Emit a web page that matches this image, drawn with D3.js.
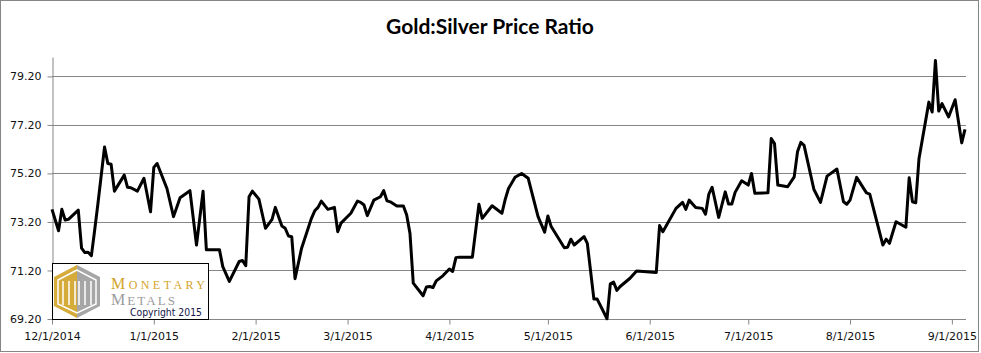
<!DOCTYPE html>
<html>
<head>
<meta charset="utf-8">
<script src="https://cdn.jsdelivr.net/npm/d3@7"></script>
<style>
body { margin: 0; background: #fff; }
#chart svg { display: block; }
</style>
</head>
<body>
<div id="chart"></div>
<script>
var chartTitle = "Gold:Silver Price Ratio";

var dates = [
    "2014-12-01", "2014-12-03", "2014-12-04", "2014-12-05", "2014-12-06", "2014-12-09", "2014-12-10", "2014-12-11",
    "2014-12-12", "2014-12-13", "2014-12-14", "2014-12-15", "2014-12-17", "2014-12-18", "2014-12-19", "2014-12-20",
    "2014-12-23", "2014-12-24", "2014-12-25", "2014-12-27", "2014-12-29", "2014-12-31", "2015-01-01", "2015-01-02",
    "2015-01-05", "2015-01-07", "2015-01-09", "2015-01-12", "2015-01-14", "2015-01-16", "2015-01-17", "2015-01-21",
    "2015-01-22", "2015-01-24", "2015-01-27", "2015-01-28", "2015-01-29", "2015-01-30", "2015-01-31", "2015-02-02",
    "2015-02-04", "2015-02-06", "2015-02-07", "2015-02-09", "2015-02-10", "2015-02-11", "2015-02-12", "2015-02-13",
    "2015-02-15", "2015-02-18", "2015-02-19", "2015-02-20", "2015-02-21", "2015-02-23", "2015-02-25", "2015-02-26",
    "2015-02-27", "2015-03-02", "2015-03-04", "2015-03-05", "2015-03-06", "2015-03-07", "2015-03-09", "2015-03-11",
    "2015-03-12", "2015-03-13", "2015-03-14", "2015-03-16", "2015-03-18", "2015-03-19", "2015-03-20", "2015-03-21",
    "2015-03-24", "2015-03-25", "2015-03-26", "2015-03-27", "2015-03-28", "2015-03-30", "2015-04-01", "2015-04-02",
    "2015-04-03", "2015-04-04", "2015-04-08", "2015-04-10", "2015-04-11", "2015-04-14", "2015-04-17", "2015-04-18",
    "2015-04-19", "2015-04-21", "2015-04-23", "2015-04-25", "2015-04-28", "2015-04-30", "2015-05-01", "2015-05-02",
    "2015-05-06", "2015-05-07", "2015-05-08", "2015-05-09", "2015-05-12", "2015-05-13", "2015-05-15", "2015-05-16",
    "2015-05-19", "2015-05-20", "2015-05-21", "2015-05-22", "2015-05-23", "2015-05-26", "2015-05-28", "2015-05-30",
    "2015-06-03", "2015-06-04", "2015-06-05", "2015-06-09", "2015-06-11", "2015-06-12", "2015-06-13", "2015-06-15",
    "2015-06-17", "2015-06-18", "2015-06-19", "2015-06-20", "2015-06-22", "2015-06-24", "2015-06-25", "2015-06-26",
    "2015-06-27", "2015-06-29", "2015-07-01", "2015-07-02", "2015-07-03", "2015-07-07", "2015-07-08", "2015-07-09",
    "2015-07-10", "2015-07-13", "2015-07-15", "2015-07-16", "2015-07-17", "2015-07-18", "2015-07-21", "2015-07-23",
    "2015-07-25", "2015-07-28", "2015-07-30", "2015-07-31", "2015-08-01", "2015-08-03", "2015-08-06", "2015-08-07",
    "2015-08-11", "2015-08-12", "2015-08-13", "2015-08-15", "2015-08-18", "2015-08-19", "2015-08-20", "2015-08-21",
    "2015-08-22", "2015-08-25", "2015-08-26", "2015-08-27", "2015-08-28", "2015-08-29", "2015-08-31", "2015-09-02",
    "2015-09-04", "2015-09-05"
];

var ratios = [
    73.72, 72.84, 73.72, 73.28, 73.31, 73.69, 72.12, 71.94,
    71.95, 71.81, 72.87, 73.97, 76.29, 75.61, 75.58, 74.47,
    75.13, 74.63, 74.61, 74.47, 75.00, 73.62, 75.45, 75.61,
    74.58, 73.42, 74.20, 74.49, 72.25, 74.47, 72.05, 72.05,
    71.36, 70.75, 71.57, 71.61, 71.40, 74.24, 74.47, 74.14,
    72.94, 73.31, 73.80, 73.03, 72.94, 72.62, 72.59, 70.86,
    72.12, 73.35, 73.66, 73.80, 74.06, 73.72, 73.80, 72.80,
    73.15, 73.56, 74.06, 74.01, 73.90, 73.46, 74.10, 74.24,
    74.49, 74.07, 74.03, 73.86, 73.86, 73.49, 72.73, 70.68,
    70.16, 70.52, 70.54, 70.50, 70.77, 70.98, 71.26, 71.16,
    71.73, 71.75, 71.75, 73.93, 73.35, 73.87, 73.56, 74.13,
    74.58, 75.04, 75.20, 75.00, 73.42, 72.78, 73.45, 73.01,
    72.14, 72.16, 72.49, 72.25, 72.60, 72.32, 70.02, 70.02,
    69.21, 70.65, 70.72, 70.38, 70.54, 70.88, 71.18, 71.16,
    71.12, 73.05, 72.80, 73.76, 74.01, 73.72, 74.10, 73.80,
    73.76, 73.52, 74.35, 74.63, 73.39, 74.44, 73.94, 73.94,
    74.42, 74.90, 74.72, 75.20, 74.38, 74.40, 76.64, 76.43,
    74.72, 74.65, 75.06, 76.09, 76.48, 76.36, 74.54, 74.01,
    75.09, 75.38, 74.03, 73.93, 74.10, 75.04, 74.40, 74.35,
    72.25, 72.49, 72.32, 73.21, 72.98, 75.02, 74.03, 73.99,
    75.82, 78.14, 77.73, 79.86, 77.77, 78.08, 77.53, 78.24,
    76.46, 77.02
];

var yTicks = [69.2, 71.2, 73.2, 75.2, 77.2, 79.2];
var xStart = "2014-12-01", xEnd = "2015-09-05";

var width = 981, height = 353;
var plot = { left: 52, right: 965, top: 57, bottom: 319 };
var gridColor = "#868686";
var labelFont = "'DejaVu Sans', Verdana, sans-serif";

var parseDate = d3.timeParse("%Y-%m-%d");
var data = dates.map(function (d, i) { return { date: parseDate(d), value: ratios[i] }; });

var svg = d3.select("#chart")
    .append("svg")
    .attr("width", width)
    .attr("height", height);

// outer frame
svg.append("rect")
    .attr("x", 0.5).attr("y", 0.5)
    .attr("width", width - 3).attr("height", height - 2)
    .attr("fill", "#fff")
    .attr("stroke", gridColor);

var x = d3.scaleTime()
    .domain([parseDate(xStart), parseDate(xEnd)])
    .range([plot.left, plot.right]);

var y = d3.scaleLinear()
    .domain([69.2, 80.0])
    .range([plot.bottom, plot.top]);

// horizontal gridlines
svg.append("g")
    .selectAll("line")
    .data(yTicks.slice(1))
    .enter()
    .append("line")
    .attr("x1", plot.left).attr("x2", plot.right + 1)
    .attr("y1", d => Math.round(y(d)) + 0.5)
    .attr("y2", d => Math.round(y(d)) + 0.5)
    .attr("stroke", gridColor)
    .attr("stroke-width", 1);

var yAxis = svg.append("g")
    .attr("transform", "translate(" + (plot.left + 0.5) + ",0)")
    .call(d3.axisLeft(y).tickValues(yTicks).tickFormat(d3.format(".2f"))
        .tickSize(5).tickSizeOuter(0).tickPadding(6));

var xAxis = svg.append("g")
    .attr("transform", "translate(0," + (plot.bottom + 0.5) + ")")
    .call(d3.axisBottom(x).ticks(d3.timeMonth.every(1)).tickFormat(d3.timeFormat("%-m/%-d/%Y"))
        .tickSize(5).tickSizeOuter(0).tickPadding(8));

xAxis.select(".domain").attr("d", "M" + plot.left + ",0H" + (plot.right + 1));

[yAxis, xAxis].forEach(function (ax) {
    ax.selectAll(".domain, .tick line").attr("stroke", gridColor);
    ax.selectAll("text")
        .attr("fill", "#111")
        .style("font-family", labelFont)
        .style("font-size", "11px");
});

// title
svg.append("text")
    .attr("x", 490)
    .attr("y", 34)
    .attr("text-anchor", "middle")
    .style("font-family", "Lato, 'Open Sans', sans-serif")
    .style("font-weight", "bold")
    .style("font-size", "21px")
    .attr("fill", "#000")
    .text(chartTitle);

// ratio line
var line = d3.line()
    .x(d => x(d.date))
    .y(d => y(d.value));

svg.append("path")
    .datum(data)
    .attr("fill", "none")
    .attr("stroke", "#000")
    .attr("stroke-width", 3)
    .attr("stroke-linejoin", "round")
    .attr("d", line);

// logo box
var logo = svg.append("g");
logo.append("rect")
    .attr("x", 52.5).attr("y", 263.5)
    .attr("width", 156).attr("height", 56)
    .attr("fill", "#fff")
    .attr("stroke", "#000");

var gold = "#d5ab3a", grey = "#a6a6a6";
var hex = { cx: 77, top: 265, bot: 318, left: 54, right: 100, upper: 277, lower: 306 };
logo.append("path")
    .attr("d", "M" + hex.cx + "," + hex.top + "L" + hex.left + "," + hex.upper + "L" + hex.left + "," + hex.lower +
        "L" + hex.cx + "," + hex.bot + "Z")
    .attr("fill", gold);
logo.append("path")
    .attr("d", "M" + hex.cx + "," + hex.top + "L" + hex.right + "," + hex.upper + "L" + hex.right + "," + hex.lower +
        "L" + hex.cx + "," + hex.bot + "Z")
    .attr("fill", grey);
// inner outline and bars
logo.append("path")
    .attr("d", "M" + hex.cx + "," + (hex.top + 5) + "L" + (hex.left + 4) + "," + (hex.upper + 3) +
        "L" + (hex.left + 4) + "," + (hex.lower - 2) + "L" + hex.cx + "," + (hex.bot - 5) +
        "L" + (hex.right - 4) + "," + (hex.lower - 2) + "L" + (hex.right - 4) + "," + (hex.upper + 3) + "Z")
    .attr("fill", "none")
    .attr("stroke", "#fff")
    .attr("stroke-width", 1.5);
[63, 69, 75, 79, 85, 91].forEach(function (bx) {
    logo.append("line")
        .attr("x1", bx).attr("x2", bx)
        .attr("y1", 281).attr("y2", 305)
        .attr("stroke", "#fff")
        .attr("stroke-width", 1.5);
});

var serif = "'Liberation Serif', 'DejaVu Serif', serif";
var mon = logo.append("text")
    .attr("x", 111).attr("y", 289)
    .attr("textLength", 94)
    .attr("lengthAdjust", "spacing")
    .attr("fill", "#d4a32a")
    .style("font-family", serif);
mon.append("tspan").style("font-size", "16px").text("M");
mon.append("tspan").style("font-size", "12px").text("ONETARY");

var met = logo.append("text")
    .attr("x", 111).attr("y", 304.5)
    .attr("textLength", 64)
    .attr("lengthAdjust", "spacing")
    .attr("fill", "#9b9b9b")
    .style("font-family", serif);
met.append("tspan").style("font-size", "16px").text("M");
met.append("tspan").style("font-size", "13px").text("ETALS");

logo.append("text")
    .attr("x", 130).attr("y", 316)
    .attr("textLength", 72)
    .attr("lengthAdjust", "spacingAndGlyphs")
    .attr("fill", "#14144a")
    .style("font-family", labelFont)
    .style("font-size", "10.5px")
    .text("Copyright 2015");
</script>
</body>
</html>
